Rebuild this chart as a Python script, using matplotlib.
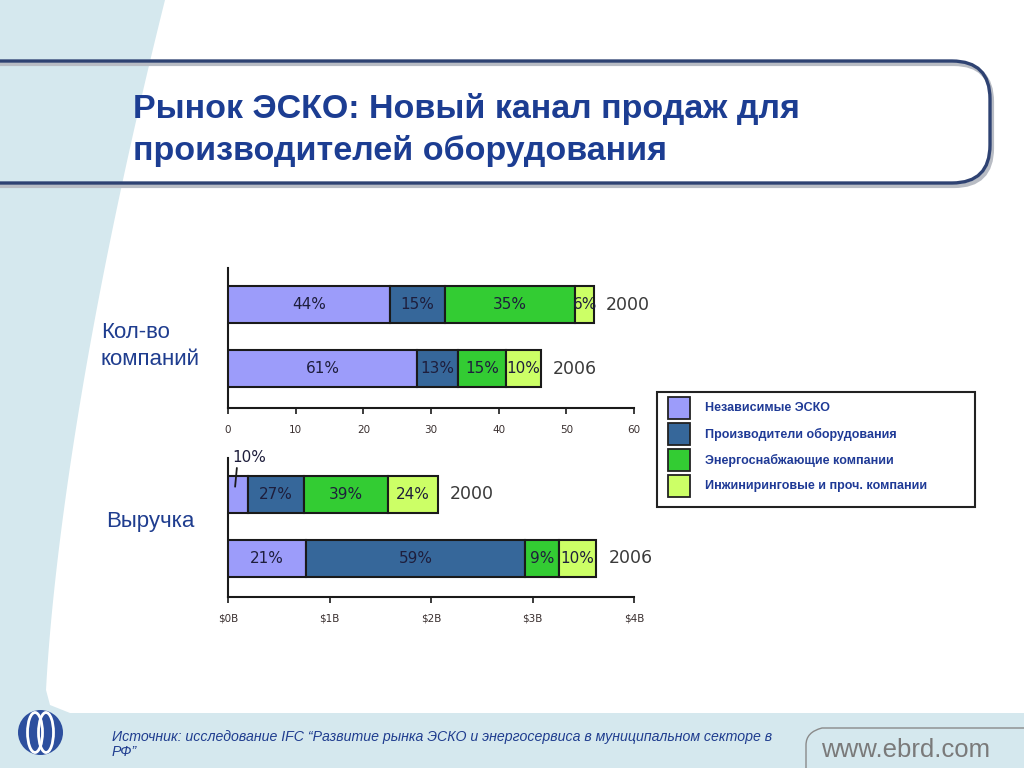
import matplotlib
matplotlib.use("Agg")
import matplotlib.pyplot as plt
import numpy as np
from matplotlib.patches import Rectangle, FancyBboxPatch, Circle, Ellipse, Polygon
from matplotlib.path import Path
from matplotlib.patches import PathPatch

# ---------------- data ----------------
years = ["2000", "2006"]
series_names = ["Независимые ЭСКО", "Производители оборудования",
                "Энергоснабжающие компании", "Инжиниринговые и проч. компании"]
series_colors = ["#9c9cfa", "#36679a", "#33cc33", "#ccff66"]

# number of companies (per year: 2000, 2006)
cnt_indep = [23.9, 28.0]
cnt_manuf = [8.2, 6.0]
cnt_energy = [19.2, 7.1]
cnt_eng = [2.8, 5.1]
cnt_labels_2000 = ["44%", "15%", "35%", "6%"]
cnt_labels_2006 = ["61%", "13%", "15%", "10%"]
cnt_ticks = [0, 10, 20, 30, 40, 50, 60]

# revenue, $B (per year: 2000, 2006)
rev_indep = [0.20, 0.77]
rev_manuf = [0.55, 2.16]
rev_energy = [0.83, 0.33]
rev_eng = [0.49, 0.37]
rev_labels_2000 = ["10%", "27%", "39%", "24%"]
rev_labels_2006 = ["21%", "59%", "9%", "10%"]
rev_ticks = [0, 1, 2, 3, 4]
rev_ticklabels = ["$0B", "$1B", "$2B", "$3B", "$4B"]

title_lines = ["Рынок ЭСКО: Новый канал продаж для", "производителей оборудования"]
source_lines = ["Источник: исследование IFC “Развитие рынка ЭСКО и энергосервиса в муниципальном секторе в",
                "РФ”"]

W, H = 1024, 768
fig = plt.figure(figsize=(W / 100, H / 100), dpi=100)
fig.patch.set_facecolor("#d5e8ee")

# ---------------- background / slide decoration ----------------
bg = fig.add_axes([0, 0, 1, 1], zorder=-10)
bg.set_xlim(0, W)
bg.set_ylim(H, 0)
bg.axis("off")

ys = np.linspace(0, 690, 60)
xs = 45 + 120 * (1 - ys / 720) ** 1.5
left_edge = list(zip(xs, ys))
white_pts = [(W, 0)] + left_edge + [(50, 705), (70, 713), (W, 713)]
bg.add_patch(Polygon(white_pts, closed=True, facecolor="white", edgecolor="none"))

# title frame (shadow + line)
bg.add_patch(FancyBboxPatch((-80, 64), 1072, 122, boxstyle="round,pad=0,rounding_size=38",
                            facecolor="none", edgecolor="#b8bcc4", lw=3))
bg.add_patch(FancyBboxPatch((-80, 61), 1070, 122, boxstyle="round,pad=0,rounding_size=38",
                            facecolor="none", edgecolor="#2e4272", lw=2.4))

for i, line in enumerate(title_lines):
    bg.text(133, 118 + 42 * i, line, fontsize=24.5, fontweight="bold", color="#1c3d92",
            family="Liberation Sans", va="baseline", ha="left")

# side labels
bg.text(101, 338, "Кол-во", fontsize=16, color="#1f3d8f", family="Liberation Sans", va="baseline")
bg.text(101, 365, "компаний", fontsize=16, color="#1f3d8f", family="Liberation Sans", va="baseline")
bg.text(106, 527, "Выручка", fontsize=16, color="#1f3d8f", family="Liberation Sans", va="baseline")

# legend box
bg.add_patch(Rectangle((657, 392), 318, 115, facecolor="white", edgecolor="#222222", lw=1.5))
for i, (name, col) in enumerate(zip(series_names, series_colors)):
    y0 = 397 + 26 * i
    bg.add_patch(Rectangle((668, y0), 22, 22, facecolor=col, edgecolor="#222222", lw=1.3))
    bg.text(705, y0 + 11, name, fontsize=9, fontweight="bold", color="#1f3a96",
            family="Liberation Sans", va="center", ha="left")

# footer
for i, line in enumerate(source_lines):
    bg.text(112, 741 + 15 * i, line, fontsize=10.2, style="italic", color="#1f3d8f",
            family="Liberation Sans", va="baseline", ha="left")
bg.text(821, 757, "www.ebrd.com", fontsize=18.5, color="#7a7a7a", family="Liberation Sans",
        va="baseline", ha="left")
frame = Path([(806, 770), (806, 745), (806, 732), (822, 728), (1030, 728)],
             [Path.MOVETO, Path.LINETO, Path.CURVE3, Path.CURVE3, Path.LINETO])
bg.add_patch(PathPatch(frame, facecolor="none", edgecolor="#8a8a8a", lw=1))

# logo
logo = Circle((40.5, 732.5), 22.5, facecolor="#2d4f9e", edgecolor="none")
bg.add_patch(logo)
for cx in (35, 46):
    e = Ellipse((cx, 732.5), 15, 40, facecolor="none", edgecolor="white", lw=2)
    bg.add_patch(e)
    e.set_clip_path(logo)


# ---------------- charts ----------------
def px_axes(left, top, right, bottom):
    return fig.add_axes([left / W, 1 - bottom / H, (right - left) / W, (bottom - top) / H])


def stacked(ax, segs, labels_by_year, xmax, ticks, ticklabels, skip=None):
    ypos = [1, 0]
    left = np.zeros(2)
    for k, (vals, col) in enumerate(zip(segs, series_colors)):
        vals = np.asarray(vals)
        ax.barh(ypos, vals, left=left, height=0.58, color=col, edgecolor="#1a1a1a", lw=1.5, zorder=3)
        for j in range(2):
            lab = labels_by_year[j][k]
            if skip is not None and (j, k) == skip:
                continue
            ax.text(left[j] + vals[j] / 2, ypos[j], lab, ha="center", va="center",
                    fontsize=11, color="#1e1e3c", family="DejaVu Sans", zorder=4)
        left = left + vals
    for j in range(2):
        ax.annotate(years[j], (left[j], ypos[j]), xytext=(12, 0), textcoords="offset pixels",
                    ha="left", va="center", fontsize=12.5, color="#3a3a3a", family="DejaVu Sans")
    ax.set_xlim(0, xmax)
    ax.set_ylim(-0.61, 1.57)
    ax.set_facecolor("none")
    for s in ("top", "right"):
        ax.spines[s].set_visible(False)
    for s in ("left", "bottom"):
        ax.spines[s].set_linewidth(1.5)
        ax.spines[s].set_color("#1a1a1a")
    ax.set_yticks([])
    ax.set_xticks(ticks)
    ax.set_xticklabels(ticklabels)
    ax.tick_params(axis="x", direction="out", length=4, width=1.2, pad=8,
                   labelsize=7.5, labelcolor="#3a3030", color="#1a1a1a")
    return left


ax1 = px_axes(228, 268, 634, 408)
stacked(ax1, [cnt_indep, cnt_manuf, cnt_energy, cnt_eng],
        [cnt_labels_2000, cnt_labels_2006], 60, cnt_ticks, [str(t) for t in cnt_ticks])

ax2 = px_axes(228, 458, 634, 597)
stacked(ax2, [rev_indep, rev_manuf, rev_energy, rev_eng],
        [rev_labels_2000, rev_labels_2006], 4, rev_ticks, rev_ticklabels, skip=(0, 0))
ax2.annotate(rev_labels_2000[0], xy=(rev_indep[0] * 0.35, 1.12), xytext=(14, 29),
             textcoords="offset pixels", ha="center", va="center", fontsize=11,
             color="#1e1e3c", family="DejaVu Sans", annotation_clip=False,
             arrowprops=dict(arrowstyle="-", color="#1a1a1a", lw=1.3, relpos=(0.15, 0.1),
                             shrinkA=0, shrinkB=0), zorder=5)

fig.savefig("out.png", dpi=100, facecolor=fig.get_facecolor())
